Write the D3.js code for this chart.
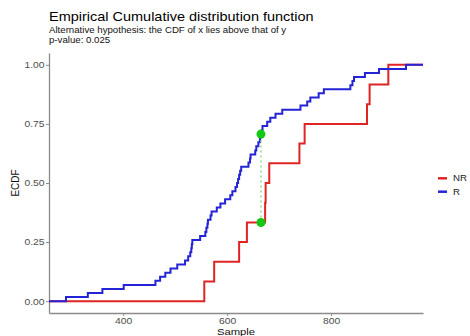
<!DOCTYPE html>
<head>
<meta charset="utf-8">
<style type="text/css">
body { margin: 0; background: #fff; }
text { font-family: "Liberation Sans", Arial, sans-serif; }
</style>
</head>
<body>
<script src="https://d3js.org/d3.v7.min.js"></script>
<script type="text/javascript">
  var nrValues = [556, 575, 623, 638, 673, 674, 681, 739, 749, 869, 874, 910];
  var rValues = [290, 332, 360, 401, 462, 471, 481, 491, 504, 519, 525, 529, 531, 532,
                 533, 548, 558, 560, 562, 563, 568, 570, 580, 587, 596, 606, 610, 616,
                 619, 621, 623, 625, 627, 641, 644, 645, 654, 656, 660, 663, 664, 667,
                 668, 677, 683, 693, 706, 741, 754, 760, 776, 786, 837, 841, 844, 865,
                 892, 944];
  var groups = ['NR', 'R'];
  var colors = ['#e02424', '#2424d6'];

  // point of maximum distance between the two ECDFs
  var ksX = 665;
  var ksY = [0.333, 0.707];

  var xTicks = [400, 600, 800];
  var yTicks = [0, 0.25, 0.5, 0.75, 1];
  var yTickLabels = ['0.00', '0.25', '0.50', '0.75', '1.00'];

  var sx = 1.15; // text in the picture is a bit stretched sideways

  var svg = d3.select('body').append('svg')
          .attr('width', 470)
          .attr('height', 336);

  // panel edges ("top" is taken by window.top, so prefixed names)
  var pLeft = 49, pRight = 423, pTop = 53, pBottom = 313;

  var all = nrValues.concat(rValues);
  var ext = d3.extent(all);
  var pad = (ext[1] - ext[0]) * 0.05;

  var x = d3.scaleLinear().domain([ext[0] - pad, ext[1] + pad]).range([pLeft, pRight]);
  var y = d3.scaleLinear().domain([-0.05, 1.05]).range([pBottom, pTop]);

  function label(txt, px, py, size, fill, anchor) {
    return svg.append('text')
          .attr('transform', 'translate(' + px + ',' + py + ') scale(' + sx + ',1)')
          .attr('font-size', size)
          .attr('fill', fill)
          .attr('text-anchor', anchor || 'start')
          .text(txt);
  }

  // titles
  label('Empirical Cumulative distribution function', 49, 21, 12.6, '#000');
  label('Alternative hypothesis: the CDF of x lies above that of y', 49, 33, 8.4, '#111');
  label('p-value: 0.025', 49, 43, 8.4, '#111');

  // axes
  var xAxis = svg.append('g')
          .attr('transform', 'translate(0,' + pBottom + ')')
          .call(d3.axisBottom(x).tickValues(xTicks).tickSize(3).tickSizeOuter(0).tickPadding(1.5));
  var yAxis = svg.append('g')
          .attr('transform', 'translate(' + pLeft + ',0)')
          .call(d3.axisLeft(y).tickValues(yTicks).tickSize(3).tickSizeOuter(0).tickPadding(1.5)
                .tickFormat(function(d, i){ return yTickLabels[i]; }));

  [xAxis, yAxis].forEach(function(a){
    a.select('.domain').attr('stroke', '#8a8a8a').attr('stroke-width', 1.3);
    a.selectAll('.tick line').attr('stroke', '#8a8a8a').attr('stroke-width', 1);
    a.selectAll('.tick text')
          .attr('font-family', '"Liberation Sans", Arial, sans-serif')
          .attr('font-size', 9)
          .attr('fill', '#4d4d4d')
          .attr('transform', 'scale(' + sx + ',1)');
  });
  yAxis.selectAll('.tick text').attr('x', -4.5 / sx);

  label('Sample', (pLeft + pRight) / 2, 335, 9.8, '#111', 'middle');
  svg.append('text')
          .attr('transform', 'translate(18.5,' + (pTop + pBottom) / 2 + ') rotate(-90)')
          .attr('font-size', 10)
          .attr('fill', '#111')
          .attr('text-anchor', 'middle')
          .text('ECDF');

  // ECDF step lines
  function ecdfPoints(values) {
    var s = values.slice().sort(d3.ascending);
    var n = s.length;
    var pts = [[x.domain()[0], 0]];
    s.forEach(function(v, i){ pts.push([v, (i + 1) / n]); });
    pts.push([x.domain()[1], 1]);
    return pts;
  }

  var line = d3.line()
          .x(function(d){ return x(d[0]); })
          .y(function(d){ return y(d[1]); })
          .curve(d3.curveStepAfter);

  var series = [nrValues, rValues];
  svg.selectAll('.ecdf')
          .data(series)
          .enter()
          .append('path')
          .attr('class', 'ecdf')
          .attr('d', function(d){ return line(ecdfPoints(d)); })
          .attr('fill', 'none')
          .attr('stroke', function(d, i){ return colors[i]; })
          .attr('stroke-width', 2);

  // distance segment and its end points
  svg.append('line')
          .attr('x1', x(ksX)).attr('x2', x(ksX))
          .attr('y1', y(ksY[0])).attr('y2', y(ksY[1]))
          .attr('stroke', '#8fdc8f')
          .attr('stroke-width', 1.5)
          .attr('stroke-dasharray', '2,3');

  svg.selectAll('.ks')
          .data(ksY)
          .enter()
          .append('circle')
          .attr('class', 'ks')
          .attr('cx', x(ksX))
          .attr('cy', function(d){ return y(d); })
          .attr('r', 4.5)
          .attr('fill', '#16c816');

  // legend
  var legend = svg.selectAll('.leg')
          .data(groups)
          .enter()
          .append('g')
          .attr('class', 'leg')
          .attr('transform', function(d, i){ return 'translate(438,' + (178.3 + i * 13.4) + ')'; });
  legend.append('line')
          .attr('x1', 0).attr('x2', 9)
          .attr('stroke', function(d, i){ return colors[i]; })
          .attr('stroke-width', 2.5);
  legend.append('text')
          .attr('x', 15 / sx)
          .attr('dy', '0.35em')
          .attr('transform', 'scale(' + sx + ',1)')
          .attr('font-size', 8.4)
          .attr('fill', '#222')
          .text(function(d){ return d; });
</script>
</body>
